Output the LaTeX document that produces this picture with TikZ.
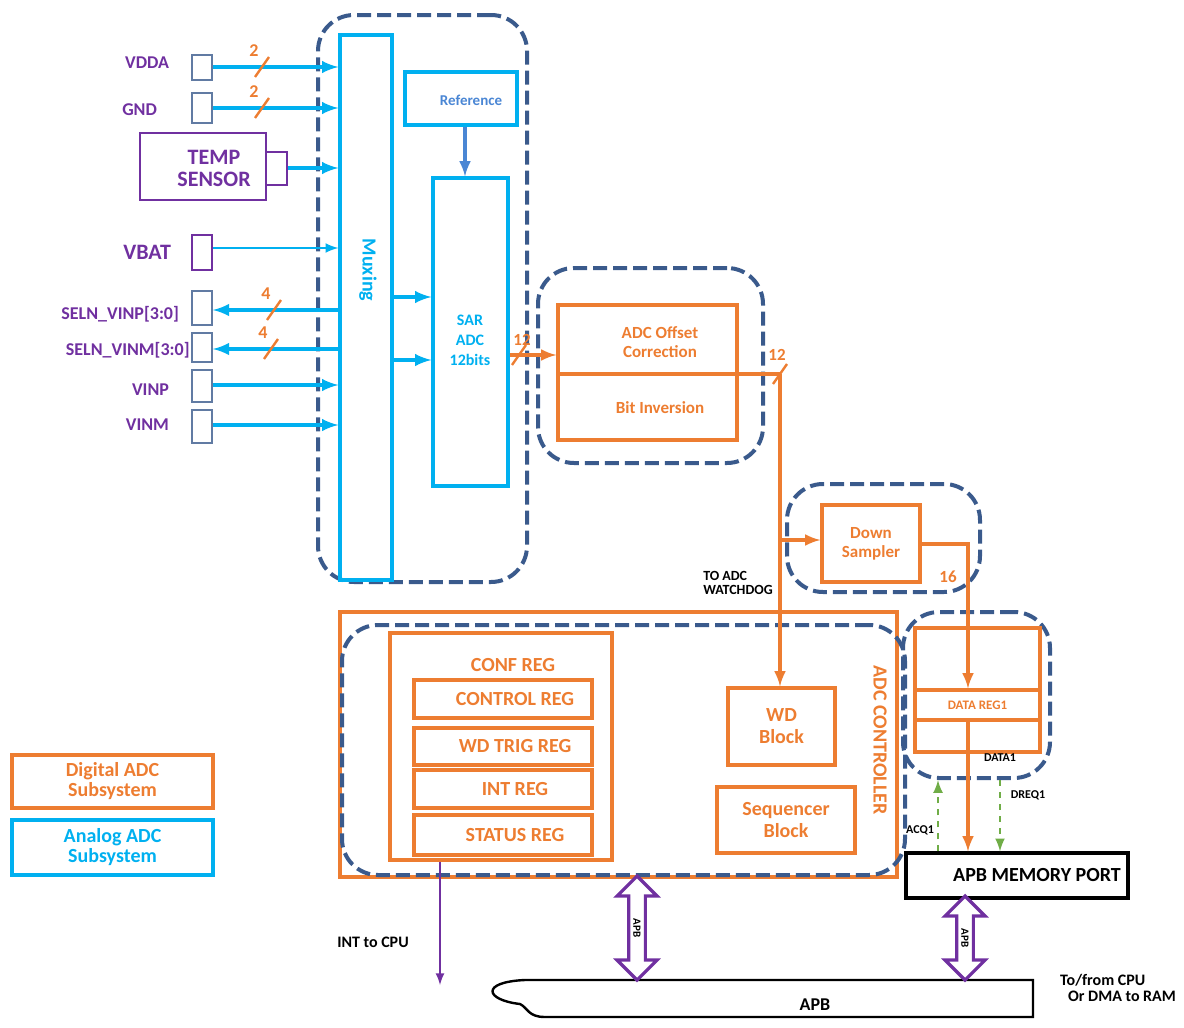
\documentclass[tikz,border=0pt]{standalone}
\usepackage{fontspec}
\setmainfont{Carlito}
\usetikzlibrary{arrows,fit,shapes.arrows,calc}
\definecolor{adccyan}{HTML}{00B0F0}
\definecolor{adcorange}{HTML}{ED7D31}
\definecolor{adcdash}{HTML}{3A5A8C}
\definecolor{adcpurple}{HTML}{7030A0}
\definecolor{adcgreen}{HTML}{70AD47}
\definecolor{adcref}{HTML}{4A86D4}
\tikzset{
  fs/.style={font=\bfseries\fontsize{#1}{#1}\selectfont},
  group/.style={draw=adcdash, dashed, dash pattern=on 7pt off 3pt, line width=2pt, rounded corners=18pt, inner sep=0pt},
  abox/.style={draw=adccyan, line width=1.6pt, inner sep=0pt},
  dbox/.style={draw=adcorange, line width=1.6pt, inner sep=0pt},
  atxt/.style={text=adccyan, align=center, fs=#1},
  dtxt/.style={text=adcorange, align=center, fs=#1},
  pin/.style={draw=adcdash!80, line width=0.8pt, inner sep=0pt},
  pinlbl/.style={text=adcpurple, fs=9, anchor=east},
  asig/.style={draw=adccyan, line width=1.8pt, -latex},
  dsig/.style={draw=adcorange, line width=1.6pt, -latex},
  slash/.style={draw=adcorange, line width=1.2pt},
  ctrl/.style={draw=adcgreen, line width=1.2pt, dashed, -latex},
  bus/.style={double arrow, draw=adcpurple, fill=white, line width=1.6pt, rotate=-90,
    minimum height=52pt, minimum width=20pt, double arrow head extend=5pt, inner sep=1pt, fs=5.5}
}
\newcommand{\busmark}[3]{
  \draw[slash] (#1-7,#2+10) -- (#1+7,#2-10);
  \node[text=adcorange, fs=9] at (#1-8,#2-16) {#3};
}

\begin{document}
\begin{tikzpicture}[x=0.5pt,y=-0.5pt]
\useasboundingbox (0,0) rectangle (1184,1028);

% analog part
\node[group, fit={(318,15)(527,582)}] (anagrp) {};
\node[abox, fit={(340,35)(392,580)}] (mux) {};
\node[text=adccyan, fs=10, rotate=-90] (muxlbl) at (368,270) {Muxing};
\node[abox, fit={(405,72)(517,125)}] (ref) {};
\node[text=adcref, fs=7.5] at (471,100) {Reference};
\node[abox, fit={(433,178)(508,486)}] (sar) {};
\node[atxt=8] (sarlbl) at (470,340) {SAR\\[2pt]ADC\\[2pt]12bits};
\draw[draw=adcref, line width=1.6pt, -latex] (ref.south -| 465,0) -- (sar.north -| 465,0);

% pins
\node[pin, fit={(192,55)(212,80)}] (pvdda) {};
\node[pin, fit={(192,93)(212,123)}] (pgnd) {};
\node[draw=adcpurple, line width=0.8pt, inner sep=0pt, fit={(140,133)(266,200)}] (temp) {};
\node[text=adcpurple, fs=11, align=center] at (214,168) {TEMP\\SENSOR};
\node[draw=adcpurple, line width=0.8pt, inner sep=0pt, fit={(266,152)(287,185)}] (ptemp) {};
\node[draw=adcpurple, line width=0.8pt, inner sep=0pt, fit={(192,235)(212,270)}] (pvbat) {};
\node[pin, fit={(192,291)(212,325)}] (pvinps) {};
\node[pin, fit={(192,333)(212,362)}] (pvinms) {};
\node[pin, fit={(192,370)(212,402)}] (pvinp) {};
\node[pin, fit={(192,410)(212,443)}] (pvinm) {};

\node[pinlbl] at (176,63) {VDDA};
\node[pinlbl] at (164,110) {GND};
\node[pinlbl, fs=11] at (178,252) {VBAT};
\node[pinlbl] at (186,314) {SELN\_VINP[3:0]};
\node[pinlbl, inner sep=1pt] at (192,350) {SELN\_VINM[3:0]};
\node[pinlbl] at (176,390) {VINP};
\node[pinlbl] at (176,425) {VINM};

\draw[asig] (pvdda.east |- 0,67) -- (mux.west |- 0,67);
\draw[asig] (pgnd.east |- 0,108) -- (mux.west |- 0,108);
\draw[asig] (ptemp.east |- 0,168) -- (mux.west |- 0,168);
\draw[asig, line width=1.2pt] (pvbat.east |- 0,248) -- (mux.west |- 0,248);
\draw[asig] (mux.west |- 0,310) -- (pvinps.east |- 0,310);
\draw[asig] (mux.west |- 0,349) -- (pvinms.east |- 0,349);
\draw[asig] (pvinp.east |- 0,385) -- (mux.west |- 0,385);
\draw[asig] (pvinm.east |- 0,425) -- (mux.west |- 0,425);
\draw[asig] (mux.east |- 0,297) -- (sar.west |- 0,297);
\draw[asig] (mux.east |- 0,360) -- (sar.west |- 0,360);
\busmark{262}{67}{2}
\busmark{262}{108}{2}
\busmark{274}{310}{4}
\busmark{271}{349}{4}

% offset correction
\node[group, fit={(538,268)(763,463)}] (offgrp) {};
\node[dbox, fit={(558,305)(737,440)}] (off) {};
\draw[draw=adcorange, line width=1.6pt] (off.west |- 0,374) -- (off.east |- 0,374);
\node[dtxt=8.5] (offlbl) at (660,342) {ADC Offset\\[1pt]Correction};
\node[dtxt=8.5] (invlbl) at (660,408) {Bit Inversion};
\draw[dsig] (sar.east |- 0,355) -- (off.west |- 0,355);
\busmark{519}{355}{}
\node[text=adcorange, fs=8.5] at (522,340) {12};

% down sampler
\node[group, fit={(787,484)(980,592)}] (dsgrp) {};
\node[dbox, fit={(822,505)(920,582)}] (ds) {};
\node[dtxt=8.5] at (ds.center) {Down\\[1pt]Sampler};
\node[text=adcorange, fs=8.5] at (948,577) {16};
\node[fs=7, align=left] at (738,583) {TO ADC\\WATCHDOG};

% adc controller
\node[draw=adcorange, line width=1.6pt, inner sep=0pt, fit={(340,612)(897,877)}] (ctl) {};
\node[group, fit={(342,625)(905,875)}] (ctlgrp) {};
\node[text=adcorange, fs=10, rotate=-90] at (880,740) {ADC CONTROLLER};
\node[dbox, fit={(390,633)(612,860)}] (conf) {};
\node[dtxt=10] at (513,665) {CONF REG};
\node[dbox, fit={(414,680)(592,718)}] (creg) {};
\node[dtxt=10] at ($(creg.center)+(12,0)$) {CONTROL REG};
\node[dbox, fit={(414,728)(592,765)}] (wreg) {};
\node[dtxt=10] at ($(wreg.center)+(12,0)$) {WD TRIG REG};
\node[dbox, fit={(414,770)(592,808)}] (ireg) {};
\node[dtxt=10] at ($(ireg.center)+(12,0)$) {INT REG};
\node[dbox, fit={(414,815)(592,855)}] (sreg) {};
\node[dtxt=10] at ($(sreg.center)+(12,0)$) {STATUS REG};
\node[dbox, fit={(728,688)(835,765)}] (wd) {};
\node[dtxt=10] at (wd.center) {WD\\[1pt]Block};
\node[dbox, fit={(717,787)(855,853)}] (seq) {};
\node[dtxt=10] at (seq.center) {Sequencer\\[1pt]Block};

% data register
\node[group, fit={(903,612)(1050,778)}] (datgrp) {};
\node[dbox, fit={(915,628)(1040,752)}] (dat) {};
\node[dbox, fit={(915,690)(1040,720)}] (dreg) {};
\node[dtxt=6.5] at (dreg.center) {DATA REG1};
\node[fs=6] at (1000,758) {DATA1};

% data path
\draw[draw=adcorange, line width=1.6pt] (off.east |- 0,374) -- (780,374) coordinate (tap);
\draw[dsig] (tap) -- (wd.north -| tap);
\draw[dsig] (tap |- 0,540) -- (ds.west |- 0,540);
\busmark{780}{374}{}
\node[text=adcorange, fs=8.5] at (777,355) {12};
\draw[dsig] (ds.east |- 0,544) -| (dreg.north -| 968,0);

% memory port
\node[draw, line width=1.6pt, inner sep=0pt, fit={(906,853)(1128,898)}] (mem) {};
\node[fs=10] at ($(mem.center)+(20,0)$) {APB MEMORY PORT};
\draw[dsig] (dreg.south -| 968,0) -- (mem.north -| 968,0);
\draw[ctrl] (mem.north -| 938,0) -- (datgrp.south -| 938,0);
\draw[ctrl] (datgrp.south -| 1000,0) -- (mem.north -| 1000,0);
\node[fs=6] at (920,830) {ACQ1};
\node[fs=6] at (1028,795) {DREQ1};

% apb bus
\draw[line width=1.2pt] (1033,980) -- (525,980) .. controls (480,982) and (485,1000) .. (520,1004) .. controls (528,1008) and (528,1017) .. (545,1017) -- (1033,1017) -- cycle;
\node[fs=9] (apb) at (815,1005) {APB};
\node[fs=8, align=left] at (1118,988) {To/from CPU\\\hspace{4pt}Or DMA to RAM};
\node[bus] (bus1) at (637,928) {APB};
\node[bus, minimum height=42pt] (bus2) at (965,938) {APB};
\draw[draw=adcpurple, line width=1pt, -latex] (conf.south -| 440,0) -- (440,985) coordinate (intend);
\node[fs=8] at (373,942) {INT to CPU};

% legend
\node[dbox, fit={(12,755)(213,808)}] (legd) {};
\node[dtxt=10] at (legd.center) {Digital ADC\\Subsystem};
\node[abox, fit={(12,820)(213,875)}] (lega) {};
\node[atxt=10] at (lega.center) {Analog ADC\\Subsystem};
\end{tikzpicture}
\end{document}
